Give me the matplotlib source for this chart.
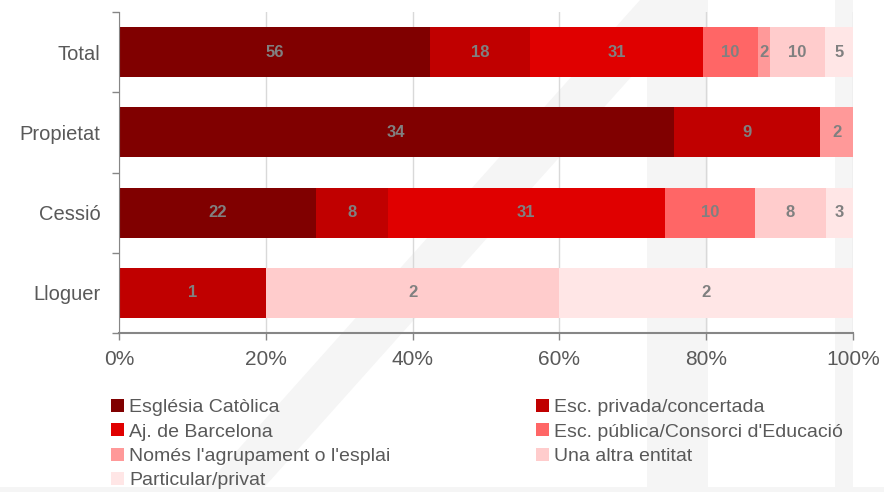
import numpy as np
import matplotlib.pyplot as plt
from matplotlib.patches import Polygon, Rectangle, Patch

plt.rcParams['font.family'] = ['Liberation Sans', 'DejaVu Sans']

# Categories (top to bottom) and counts per series
categories = ['Total', 'Propietat', 'Cessió', 'Lloguer']
series_names = ['Església Catòlica', 'Esc. privada/concertada', 'Aj. de Barcelona',
                'Esc. pública/Consorci d\'Educació', 'Només l\'agrupament o l\'esplai',
                'Una altra entitat', 'Particular/privat']
esglesia = [56, 34, 22, 0]
privada = [18, 9, 8, 1]
ajuntament = [31, 0, 31, 0]
publica = [10, 0, 10, 0]
agrupament = [2, 2, 0, 0]
altra = [10, 0, 8, 2]
particular = [5, 0, 3, 2]
colors = ['#800000', '#C00000', '#E00000', '#FF6666', '#FF9999', '#FFCCCC', '#FFE6E6']

values = np.array([esglesia, privada, ajuntament, publica, agrupament, altra, particular], dtype=float)
totals = values.sum(axis=0)
pct = values / totals * 100

fig = plt.figure(figsize=(8.84, 4.92), dpi=100)

# faint watermark behind the chart
wm = '#F5F5F5'
W, H = 884, 492
def px(pts):
    return [(x / W, 1 - y / H) for x, y in pts]
fig.patches.append(Polygon(px([(200, 492), (260, 492), (700, 0), (640, 0)]), closed=True,
                           transform=fig.transFigure, facecolor=wm, edgecolor='none', zorder=-1))
fig.patches.append(Rectangle((647 / W, 0), 61 / W, 1, transform=fig.transFigure,
                             facecolor=wm, edgecolor='none', zorder=-1))
fig.patches.append(Rectangle((835 / W, 0), 18 / W, 1, transform=fig.transFigure,
                             facecolor=wm, edgecolor='none', zorder=-1))
fig.patches.append(Rectangle((0, 0), 1, 5 / H, transform=fig.transFigure,
                             facecolor=wm, edgecolor='none', zorder=-1))

ax = fig.add_axes([119 / W, 1 - 333 / H, (853 - 119) / W, (333 - 12) / H])
ax.set_zorder(1)
ax.patch.set_alpha(0)

y = np.arange(len(categories))
left = np.zeros(len(categories))
handles = []
for i, name in enumerate(series_names):
    ax.barh(y, pct[i], left=left, height=0.625, color=colors[i], zorder=2)
    for j in range(len(categories)):
        if values[i, j] > 0:
            ax.text(left[j] + pct[i, j] / 2, y[j], f'{int(values[i, j])}', ha='center', va='center',
                    color='#808080', fontsize=12, fontweight='bold', zorder=3)
    left += pct[i]
    handles.append(Patch(facecolor=colors[i], edgecolor='none', label=name))

ax.set_xlim(0, 100)
ax.set_ylim(len(categories) - 0.5, -0.5)
ax.set_xticks(np.arange(0, 101, 20))
ax.set_xticklabels([f'{v}%' for v in range(0, 101, 20)])
ax.set_yticks(y)
ax.set_yticklabels(categories)
ax.set_yticks(np.arange(-0.5, len(categories)), minor=True)
ax.tick_params(axis='y', which='major', length=0, pad=13.5, labelsize=14.5, labelcolor='#595959')
ax.tick_params(axis='y', which='minor', length=5, color='#868686', width=1)
ax.tick_params(axis='x', length=5, color='#868686', width=1, pad=7, labelsize=15, labelcolor='#595959')
ax.grid(axis='x', color='#D9D9D9', linewidth=1, zorder=1)
ax.set_axisbelow(True)
for s in ['top', 'right']:
    ax.spines[s].set_visible(False)
ax.spines['left'].set_color('#868686')
ax.spines['bottom'].set_color('#868686')
ax.spines['bottom'].set_linewidth(1.5)

leg_kw = dict(loc='upper left', frameon=False, fontsize=14, handlelength=0.65, handleheight=0.65,
              handletextpad=0.3, labelspacing=0.36, borderaxespad=0, borderpad=0, labelcolor='#595959')
fig.legend(handles=[handles[k] for k in [0, 2, 4, 6]], bbox_to_anchor=(111 / W, 1 - 399 / H), **leg_kw)
fig.legend(handles=[handles[k] for k in [1, 3, 5]], bbox_to_anchor=(536 / W, 1 - 399 / H), **leg_kw)

fig.savefig('out.png', dpi=100)
